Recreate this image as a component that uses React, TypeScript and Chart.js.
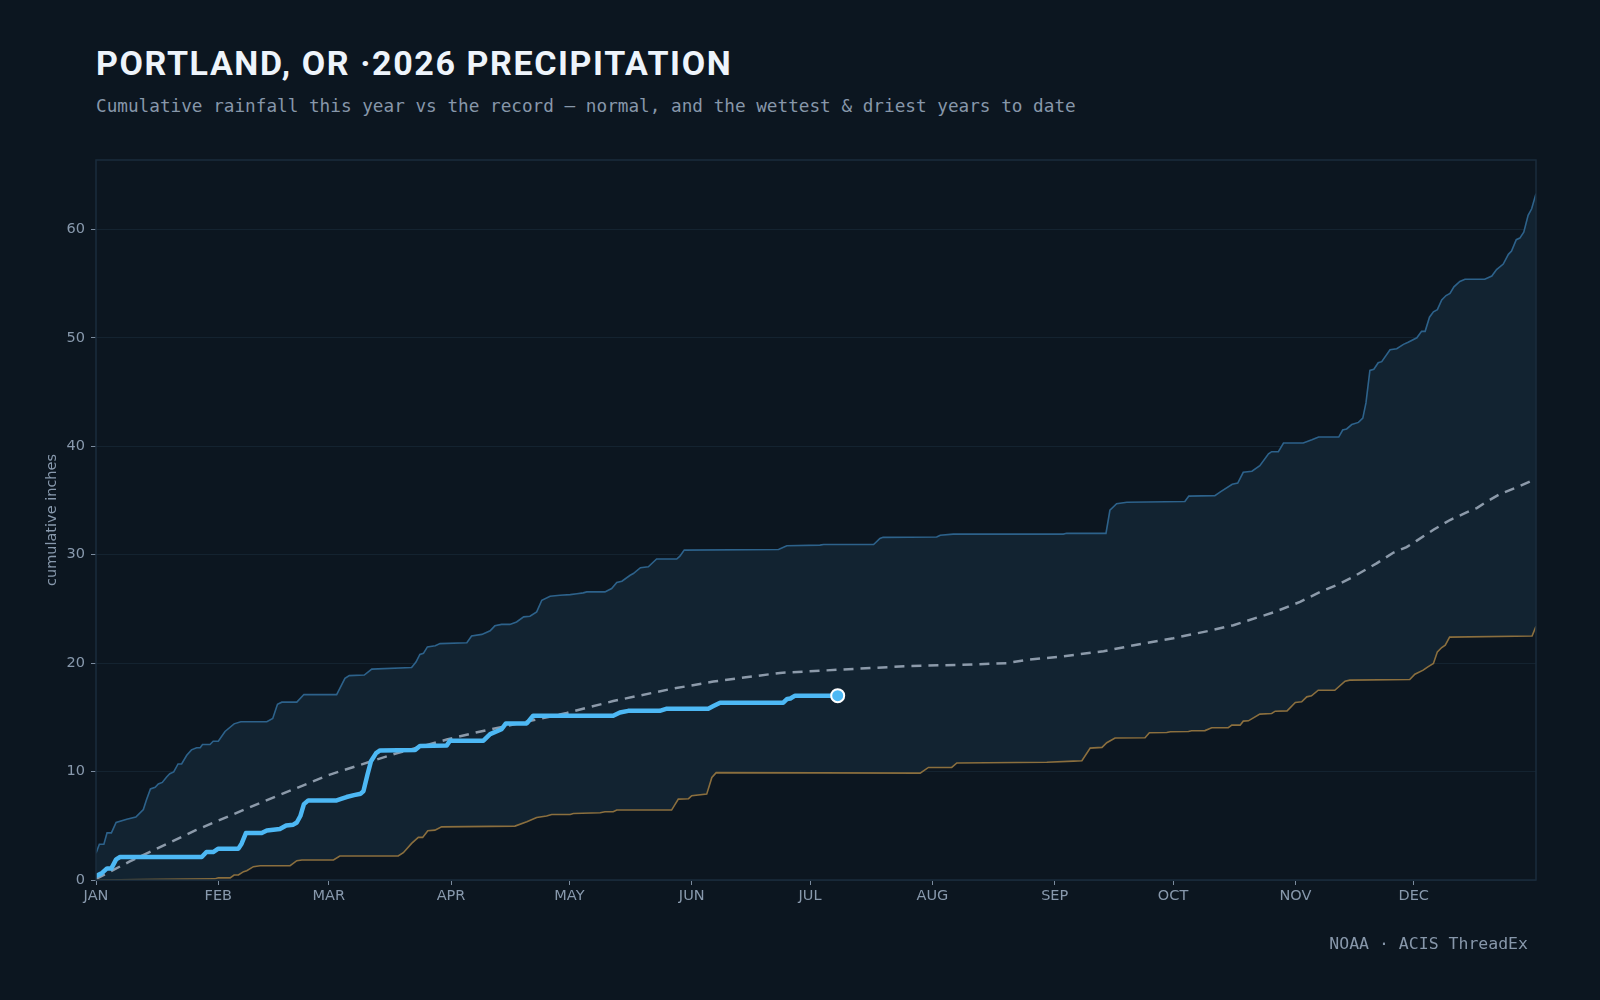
import React, { useEffect, useRef } from "react";
import { Chart, registerables } from "chart.js";

Chart.register(...registerables);

// ---- axis definitions ----
const monthDays = [0, 31, 59, 90, 120, 151, 181, 212, 243, 273, 304, 334];
const monthLabels = ["JAN", "FEB", "MAR", "APR", "MAY", "JUN", "JUL", "AUG", "SEP", "OCT", "NOV", "DEC"];
const yMax = 66.4;

// ---- wettest year to date (day of year, cumulative inches) ----
const wettestDays = [
  0, 0.85, 2, 2.8, 3.9, 5.1, 7.8, 10.1, 12, 12.8, 13.8, 15, 15.8, 16.8, 17.9, 18.7, 19.7, 20.8, 21.7, 23,
  24.2, 25.5, 26.4, 27, 28.9, 29.7, 31, 32.7, 35, 36.7, 43.3, 44.8, 46, 47.1, 50.9, 52.7, 61, 63.1, 64.2, 68,
  69.9, 80, 81.1, 82.1, 83, 84, 86, 87.2, 94, 95.2, 97.8, 99.9, 101.1, 102.8, 104.9, 106.6, 108.4, 110, 111.7, 113,
  115.1, 117.6, 120.2, 121.9, 123.5, 124.4, 129, 130.7, 132, 133.3, 135.4, 136.2, 138, 140, 142.1, 147.2, 148, 149.1, 173, 175.1,
  183.5, 184.4, 197.1, 198.7, 199.5, 213.1, 214, 217.3, 245.2, 246, 256, 257, 258.7, 261.3, 276, 277, 283.6, 285, 288, 289.4,
  290.8, 293, 295, 297.2, 298, 299.7, 301, 306, 308.2, 309.9, 315, 316, 317, 318.3, 320, 321.1, 321.9, 322.9, 323.9, 325,
  325.9, 328, 329.7, 331.4, 332.6, 334.8, 336, 336.9, 338, 339, 340, 341.1, 342.2, 343.2, 344.2, 345.7, 347, 352, 353.8, 355,
  356.7, 358, 358.8, 360, 360.9, 361.9, 363, 363.9, 365,
];
const wettestInches = [
  2.46, 3.3, 3.3, 4.35, 4.35, 5.3, 5.6, 5.8, 6.5, 7.4, 8.4, 8.55, 8.85, 9.0, 9.5, 9.8, 9.96, 10.7, 10.7, 11.5,
  12.0, 12.2, 12.2, 12.5, 12.5, 12.8, 12.8, 13.7, 14.4, 14.6, 14.6, 14.9, 16.2, 16.4, 16.4, 17.1, 17.1, 18.6, 18.85, 18.9,
  19.45, 19.6, 20.1, 20.8, 20.9, 21.5, 21.6, 21.8, 21.88, 22.5, 22.65, 22.98, 23.44, 23.57, 23.57, 23.8, 24.27, 24.33, 24.73, 25.8,
  26.17, 26.26, 26.32, 26.4, 26.48, 26.57, 26.57, 26.88, 27.43, 27.55, 28.1, 28.26, 28.8, 28.88, 29.6, 29.6, 29.87, 30.42, 30.48, 30.82,
  30.88, 30.94, 30.94, 31.5, 31.6, 31.63, 31.8, 31.9, 31.9, 31.97, 31.97, 34.1, 34.7, 34.84, 34.9, 35.4, 35.45, 35.8, 36.5, 36.6,
  37.6, 37.7, 38.2, 39.3, 39.5, 39.5, 40.3, 40.3, 40.6, 40.85, 40.85, 41.5, 41.6, 42.0, 42.2, 42.6, 44.0, 47.0, 47.1, 47.7,
  47.8, 48.9, 49.0, 49.4, 49.6, 50.0, 50.6, 50.6, 51.9, 52.4, 52.6, 53.5, 53.9, 54.1, 54.7, 55.2, 55.4, 55.4, 55.7, 56.3,
  56.8, 57.7, 58.0, 59.05, 59.2, 59.75, 61.3, 61.9, 63.3,
];

// ---- driest year to date ----
const driestDays = [
  0, 30.1, 31, 34, 35, 36.1, 37.4, 38.2, 39.9, 41.6, 49.2, 50.9, 52.2, 60.2, 61.8, 76.6, 77.9, 80, 81.7, 82.8,
  84.1, 85.9, 87.6, 106.2, 109.2, 111.7, 114.2, 115.5, 120.2, 121, 127.8, 129, 131.1, 132, 145.9, 147.6, 150.2, 151, 154.8, 156.1,
  157.2, 208.9, 211, 216.9, 218.2, 241, 247.8, 249.9, 252, 255, 256.2, 258.3, 265.9, 267, 271.4, 272.3, 276.9, 277.7, 281.1, 282.8,
  287, 287.9, 290, 290.8, 292.1, 295, 298, 298.9, 301.9, 304, 305.6, 306.9, 308.1, 309.8, 314, 316.6, 317.8, 333, 334.3, 336.4,
  337.6, 339, 340, 341.1, 342, 343.1, 364, 365,
];
const driestInches = [
  0, 0.1, 0.2, 0.2, 0.46, 0.46, 0.77, 0.86, 1.23, 1.32, 1.32, 1.78, 1.84, 1.84, 2.21, 2.21, 2.52, 3.38, 3.93, 3.93,
  4.55, 4.6, 4.9, 4.97, 5.37, 5.77, 5.9, 6.04, 6.04, 6.13, 6.2, 6.3, 6.3, 6.45, 6.45, 7.46, 7.5, 7.77, 7.92, 9.46,
  9.9, 9.86, 10.38, 10.38, 10.79, 10.86, 10.96, 11.0, 12.16, 12.23, 12.66, 13.1, 13.12, 13.58, 13.6, 13.67, 13.7, 13.76, 13.78, 14.04,
  14.05, 14.28, 14.28, 14.65, 14.68, 15.3, 15.36, 15.57, 15.6, 16.37, 16.43, 16.89, 16.98, 17.5, 17.5, 18.33, 18.43, 18.49, 18.98, 19.35,
  19.66, 19.97, 21.04, 21.44, 21.66, 22.4, 22.5, 23.4,
];

// ---- normal cumulative ----
const normalDays = [
  0, 8.45, 25.3, 42.2, 59.1, 76, 88.9, 96.3, 119.3, 131.1, 145.5, 156.5, 173.4, 193.7, 206.4,
  219, 230.9, 236, 244.4, 255.4, 263.8, 273.1, 282.4, 288.3, 291.7, 298.4, 305.2, 310.3, 314.5, 318.7, 324.6, 328.9, 332.2, 334.8, 339,
  343.2, 347.4, 350, 352.5, 355.9, 360.1, 365,
];
const normalInches = [
  0.1, 1.69, 4.6, 7.2, 9.7, 11.67, 12.95, 13.6, 15.4, 16.5, 17.6, 18.3, 19.1, 19.5, 19.74,
  19.84, 20.0, 20.3, 20.6, 21.1, 21.7, 22.3, 23.0, 23.5, 23.9, 24.67, 25.65, 26.57, 27.2, 27.96, 29.2, 30.2, 30.7, 31.3, 32.3,
  33.2, 33.9, 34.3, 34.9, 35.6, 36.2, 37.0,
];

// ---- 2026 so far ----
const currentDays = [
  0, 1.4, 2.8, 3.9, 5.1, 6.1, 26.8, 28, 29.7, 31, 36.1, 36.9, 38, 42, 43.3, 46.6, 48.2, 50, 50.9, 51.8,
  52.7, 53.8, 61, 62.3, 63.5, 65.4, 67.1, 67.8, 68.8, 69.7, 71, 72, 80.9, 82.1, 88.9, 89.7, 98.2, 99.9, 102.8, 103.9,
  109.2, 110.8, 131.1, 132.8, 134.9, 142.9, 144.7, 155.2, 156.5, 158.2, 174.2, 175.2, 176, 177.2, 188,
];
const currentInches = [
  0.37, 0.61, 1.07, 1.07, 1.9, 2.12, 2.12, 2.58, 2.58, 2.89, 2.89, 3.35, 4.33, 4.33, 4.57, 4.7, 5.03, 5.1, 5.3, 5.9,
  7.0, 7.34, 7.34, 7.5, 7.65, 7.83, 7.96, 8.2, 9.7, 10.95, 11.7, 11.95, 12.0, 12.35, 12.4, 12.85, 12.85, 13.45, 13.9, 14.44,
  14.44, 15.15, 15.15, 15.45, 15.6, 15.6, 15.8, 15.8, 16.04, 16.35, 16.35, 16.7, 16.74, 17.0, 17.0,
];

const pts = (xs: number[], ys: number[]) => xs.map((x, i) => ({ x, y: ys[i] }));

const BG = "#0c1620";
const TICK = "#8899ad";

const frame = {
  id: "frame",
  afterDatasetsDraw(chart: any) {
    const { ctx, chartArea: a } = chart;
    ctx.save();
    ctx.strokeStyle = "#1a2c3c";
    ctx.lineWidth = 1.5;
    ctx.strokeRect(a.left, a.top, a.right - a.left, a.bottom - a.top);
    ctx.restore();
  },
};

export default function App() {
  const ref = useRef<HTMLCanvasElement | null>(null);

  useEffect(() => {
    if (!ref.current) return;
    Chart.defaults.font.family = "'DejaVu Sans', sans-serif";
    const lastIdx = currentDays.length - 1;
    const chart = new Chart(ref.current, {
      type: "line",
      data: {
        datasets: [
          {
            label: "2026",
            data: pts(currentDays, currentInches),
            borderColor: "#4db8f4",
            borderWidth: 4.5,
            borderJoinStyle: "round",
            borderCapStyle: "round",
            pointRadius: (c: any) => (c.dataIndex === lastIdx ? 6.5 : 0),
            pointBackgroundColor: "#4db8f4",
            pointBorderColor: "#ffffff",
            pointBorderWidth: 2,
            pointHoverRadius: 0,
            fill: false,
          },
          {
            label: "normal",
            data: pts(normalDays, normalInches),
            borderColor: "#8c9aaa",
            borderWidth: 2.5,
            borderDash: [10, 7],
            pointRadius: 0,
            fill: false,
          },
          {
            label: "driest",
            data: pts(driestDays, driestInches),
            borderColor: "#8b6f3e",
            borderWidth: 1.6,
            pointRadius: 0,
            fill: false,
          },
          {
            label: "wettest",
            data: pts(wettestDays, wettestInches),
            borderColor: "#2d628b",
            borderWidth: 1.6,
            pointRadius: 0,
            backgroundColor: "#122331",
            fill: { target: 2 },
          },
        ],
      },
      options: {
        animation: false,
        responsive: false,
        parsing: true,
        layout: { padding: { left: 36, top: 160, right: 64, bottom: 80 } },
        plugins: {
          legend: { display: false },
          tooltip: { enabled: false },
          title: { display: false },
        },
        scales: {
          x: {
            type: "linear",
            min: 0,
            max: 365,
            afterFit: (s: any) => {
              s.height = 40;
            },
            afterBuildTicks: (s: any) => {
              s.ticks = monthDays.map((v) => ({ value: v }));
            },
            ticks: {
              autoSkip: false,
              maxRotation: 0,
              color: TICK,
              padding: 3,
              font: { size: 14.5 },
              callback: (v: any) => monthLabels[monthDays.indexOf(Number(v))] ?? "",
            },
            grid: {
              display: true,
              drawOnChartArea: false,
              drawTicks: true,
              tickLength: 5,
              tickColor: "#7b8b9e",
            },
            border: { display: false },
          },
          y: {
            type: "linear",
            min: 0,
            max: yMax,
            afterFit: (s: any) => {
              s.width = 60;
            },
            ticks: {
              stepSize: 10,
              includeBounds: false,
              color: TICK,
              padding: 6,
              font: { size: 14.5 },
            },
            grid: {
              color: "#142330",
              lineWidth: 1,
              drawTicks: true,
              tickLength: 5,
              tickColor: "#7b8b9e",
            },
            border: { display: false },
            title: {
              display: true,
              text: "cumulative inches",
              color: TICK,
              font: { size: 14.5 },
              padding: { top: 7.6, bottom: 0 },
            },
          },
        },
      },
      plugins: [frame],
    } as any);
    return () => chart.destroy();
  }, []);

  return (
    <div
      style={{
        position: "fixed",
        left: 0,
        top: 0,
        width: 1600,
        height: 1000,
        background: BG,
        overflow: "hidden",
      }}
    >
      <div
        style={{
          position: "absolute",
          left: 96,
          top: 46,
          fontFamily: "Roboto, sans-serif",
          fontWeight: 700,
          fontSize: 34,
          letterSpacing: "1.6px",
          lineHeight: 1,
          color: "#eef4fb",
          whiteSpace: "nowrap",
        }}
      >
        PORTLAND, OR ·2026 PRECIPITATION
      </div>
      <div
        style={{
          position: "absolute",
          left: 96,
          top: 98,
          fontFamily: "'DejaVu Sans Mono', monospace",
          fontSize: 17.7,
          lineHeight: 1,
          color: "#8797aa",
          whiteSpace: "nowrap",
        }}
      >
        Cumulative rainfall this year vs the record — normal, and the wettest &amp; driest years to date
      </div>
      <canvas
        ref={ref}
        width={1600}
        height={1000}
        style={{ position: "absolute", left: 0, top: 0, width: 1600, height: 1000 }}
      />
      <div
        style={{
          position: "absolute",
          right: 1600 - 1528,
          top: 936,
          fontFamily: "'DejaVu Sans Mono', monospace",
          fontSize: 16.5,
          lineHeight: 1,
          color: "#8797aa",
          whiteSpace: "nowrap",
        }}
      >
        NOAA · ACIS ThreadEx
      </div>
    </div>
  );
}
